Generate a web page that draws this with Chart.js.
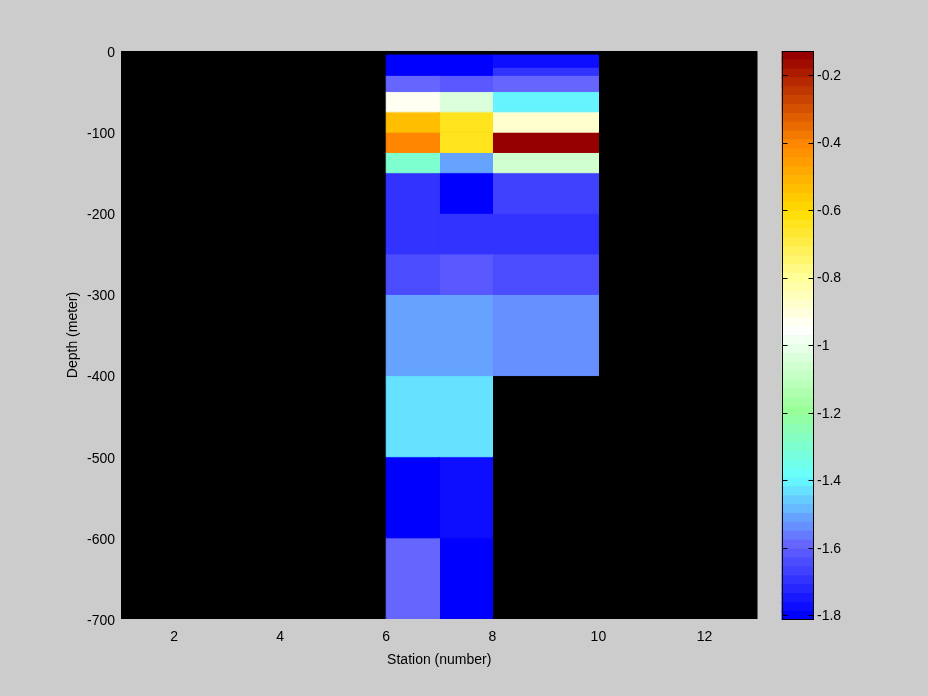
<!DOCTYPE html>
<html><head><meta charset="utf-8">
<script src="https://cdn.jsdelivr.net/npm/chart.js@4"></script>
<style>
html,body{margin:0;padding:0;background:#cccccc;}
#wrap{position:relative;width:928px;height:696px;overflow:hidden;}
#main{position:absolute;left:0;top:0;}
#cbar{position:absolute;left:760px;top:0;}
</style></head><body>
<div id="wrap"><canvas id="main" width="928" height="696"></canvas><canvas id="cbar" width="168" height="696"></canvas></div>
<script>
// ---- data ----
const stationEdges = [6, 7, 8, 10];
const depthEdges = [-5, -20, -30, -50, -75, -100, -125, -150, -200, -250, -300, -400, -500, -600, -700];
const station6 = [-1.814, -1.79, -1.60, -0.935, -0.55, -0.41, -1.29, -1.707, -1.707, -1.646, -1.524, -1.44, -1.814, -1.60];
const station7 = [-1.814, -1.79, -1.625, -1.033, -0.64, -0.65, -1.524, -1.814, -1.707, -1.615, -1.503, -1.44, -1.764, -1.814];
const station8 = [-1.78, -1.69, -1.60, -1.40, -0.888, -0.129, -1.065, -1.663, -1.688, -1.636, -1.545, null, null, null];
const xTickValues = [2, 4, 6, 8, 10, 12];
const yTickValues = [0, -100, -200, -300, -400, -500, -600, -700];
const cbarTickValues = [-1.8, -1.6, -1.4, -1.2, -1.0, -0.8, -0.6, -0.4, -0.2];
const cMin = -1.814, cMax = -0.129;
const nLevels = 64;

// ---- colormap (style) ----
const cmapStops = [
  [-1.814, [0, 0, 255]],
  [-1.60, [102, 102, 255]],
  [-1.40, [102, 255, 255]],
  [-1.20, [153, 255, 153]],
  [-0.95, [255, 255, 255]],
  [-0.80, [255, 255, 153]],
  [-0.60, [255, 221, 0]],
  [-0.40, [255, 136, 0]],
  [-0.129, [150, 0, 0]]
];
function cmap(v) {
  if (v <= cmapStops[0][0]) return cmapStops[0][1];
  for (let i = 1; i < cmapStops.length; i++) {
    if (v <= cmapStops[i][0]) {
      const [a, ca] = cmapStops[i - 1], [b, cb] = cmapStops[i];
      const t = (v - a) / (b - a);
      return ca.map((c, k) => Math.round(c + (cb[k] - c) * t));
    }
  }
  return cmapStops[cmapStops.length - 1][1];
}
const range = cMax - cMin;
function levelColor(i) {
  const c = cmap(cMin + i * range / (nLevels - 1));
  return `rgb(${c[0]},${c[1]},${c[2]})`;
}
function colorFor(v) {
  let lv = Math.floor((v - cMin) / range * nLevels);
  lv = Math.max(0, Math.min(nLevels - 1, lv));
  return levelColor(lv);
}

const FONT = {family: '"Liberation Sans", Arial, Helvetica, sans-serif', size: 14};

// ---- main chart ----
const columns = [station6, station7, station8];
const datasets = [];
columns.forEach((col, c) => {
  col.forEach((v, r) => {
    if (v === null) return;
    const x0 = stationEdges[c], x1 = stationEdges[c + 1];
    const y0 = depthEdges[r], y1 = depthEdges[r + 1];
    const color = colorFor(v);
    datasets.push({
      type: 'line',
      data: [{x: x0, y: y0}, {x: x1, y: y0}, {x: x1, y: y1}, {x: x0, y: y1}, {x: x0, y: y0}],
      fill: 'shape', backgroundColor: color, borderColor: color, borderWidth: 1,
      pointRadius: 0, pointHoverRadius: 0, tension: 0
    });
  });
});

const blackArea = {
  id: 'blackArea',
  beforeDatasetsDraw(chart) {
    const {ctx, chartArea: a} = chart;
    ctx.save(); ctx.fillStyle = '#000';
    ctx.fillRect(a.left, a.top, a.right - a.left, a.bottom - a.top);
    ctx.restore();
  }
};

new Chart(document.getElementById('main'), {
  type: 'line',
  data: {datasets},
  plugins: [blackArea],
  options: {
    responsive: false, animation: false, events: [],
    layout: {padding: {left: 0, top: 51, right: 170.5, bottom: 0}},
    plugins: {legend: {display: false}, tooltip: {enabled: false}},
    scales: {
      x: {
        type: 'linear', min: 1, max: 13,
        grid: {display: false, drawTicks: false}, border: {display: false},
        afterBuildTicks: s => { s.ticks = xTickValues.map(v => ({value: v})); },
        afterFit: s => { s.height = 77; },
        ticks: {color: '#000', font: FONT, padding: 10, maxRotation: 0, autoSkip: false},
        title: {display: true, text: 'Station (number)', color: '#000', font: FONT, padding: {top: 0, bottom: 27}}
      },
      y: {
        type: 'linear', min: -700, max: 0,
        grid: {display: false, drawTicks: false}, border: {display: false},
        afterBuildTicks: s => { s.ticks = yTickValues.map(v => ({value: v})); },
        afterFit: s => { s.width = 121; },
        ticks: {color: '#000', font: FONT, padding: 6, autoSkip: false, labelOffset: 2},
        title: {display: true, text: 'Depth (meter)', color: '#000', font: FONT, padding: {top: 65, bottom: 0}}
      }
    }
  }
});

// ---- colorbar ----
const levelData = [];
for (let i = 0; i < nLevels; i++) {
  const lo = cMin + i * range / nLevels, hi = cMin + (i + 1) * range / nLevels;
  levelData.push({data: [[lo, hi]], backgroundColor: levelColor(i), borderWidth: 0,
    grouped: false, barPercentage: 1, categoryPercentage: 1});
}
const cbarFrame = {
  id: 'cbarFrame',
  afterDatasetsDraw(chart) {
    const {ctx, chartArea: a} = chart;
    const ys = chart.scales.y;
    ctx.save();
    ctx.strokeStyle = '#000'; ctx.lineWidth = 1;
    const L = Math.round(a.left) + 0.5, R = Math.round(a.right) - 0.5;
    const T = Math.round(a.top) + 0.5, B = Math.round(a.bottom) - 0.5;
    ctx.strokeRect(L, T, R - L, B - T);
    ctx.beginPath();
    cbarTickValues.forEach(v => {
      const y = Math.round(ys.getPixelForValue(v)) + 0.5;
      ctx.moveTo(L, y); ctx.lineTo(L + 5, y);
      ctx.moveTo(R, y); ctx.lineTo(R - 5, y);
    });
    ctx.stroke();
    ctx.restore();
  }
};
new Chart(document.getElementById('cbar'), {
  type: 'bar',
  data: {labels: [''], datasets: levelData},
  plugins: [cbarFrame],
  options: {
    responsive: false, animation: false, events: [],
    layout: {padding: {left: 21.5, top: 51, right: 0, bottom: 76}},
    plugins: {legend: {display: false}, tooltip: {enabled: false}},
    scales: {
      x: {display: false},
      y: {
        position: 'right', min: cMin, max: cMax,
        grid: {display: false, drawTicks: false}, border: {display: false},
        afterBuildTicks: s => { s.ticks = cbarTickValues.map(v => ({value: v})); },
        afterFit: s => { s.width = 114; },
        ticks: {color: '#000', font: FONT, padding: 3, autoSkip: false, labelOffset: 1,
          callback: v => String(Math.round(v * 10) / 10)}
      }
    }
  }
});
</script>
</body></html>
